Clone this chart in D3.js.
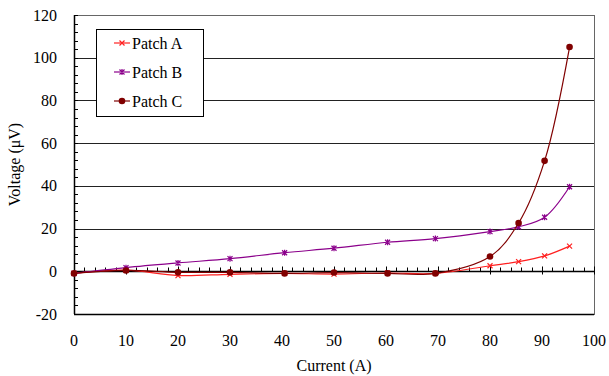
<!DOCTYPE html>
<html>
<head>
<meta charset="utf-8">
<script src="https://cdn.jsdelivr.net/npm/d3@7"></script>
<style>
  body { margin: 0; background: #fff; }
</style>
</head>
<body>
<div id="chart"></div>
<script>
// data
const current = [0, 10, 20, 30, 40.5, 50, 60.3, 69.5, 80, 85.5, 90.5, 95.3];
const patchA = [-1, 0.5, -2, -1.4, -1, -1.3, -0.8, -1, 2.6, 4.5, 7.2, 11.8];
const patchB = [-1, 1.7, 3.9, 5.9, 8.7, 10.8, 13.6, 15.3, 18.6, 20.8, 25.3, 39.6];
const patchC = [-1, 0.4, -0.5, -0.5, -1, -0.6, -1, -1, 6.9, 22.6, 51.7, 105];
const seriesNames = ["Patch A", "Patch B", "Patch C"];
const seriesColors = ["#ff2020", "#8b008b", "#800000"];
const xTicks = [0, 10, 20, 30, 40, 50, 60, 70, 80, 90, 100];
const yTicks = [-20, 0, 20, 40, 60, 80, 100, 120];

const width = 609, height = 376;
const margin = { top: 15, right: 15, bottom: 62, left: 74 };

const svg = d3.select("#chart").append("svg")
    .attr("width", width)
    .attr("height", height)
    .style("font-family", "\"Liberation Serif\", \"DejaVu Serif\", \"Times New Roman\", serif")
    .style("font-size", "16px");

const x = d3.scaleLinear().domain([0, 100]).range([margin.left, width - margin.right]);
const y = d3.scaleLinear().domain([-20, 120]).range([height - margin.bottom, margin.top]);

// gridlines
svg.append("g")
    .selectAll("line")
    .data(yTicks.filter(d => d > 0 && d < 120))
    .join("line")
    .attr("x1", x(0)).attr("x2", x(100))
    .attr("y1", d => Math.round(y(d)) + 0.5).attr("y2", d => Math.round(y(d)) + 0.5)
    .attr("stroke", "#222")
    .attr("stroke-width", 1);

// frame
svg.append("rect")
    .attr("x", x(0) + 0.5).attr("y", Math.round(y(120)) + 0.5)
    .attr("width", x(100) - x(0)).attr("height", y(-20) - y(120))
    .attr("fill", "none")
    .attr("stroke", "#666");
svg.append("line")
    .attr("x1", x(0)).attr("x2", x(100))
    .attr("y1", Math.round(y(-20)) + 0.5).attr("y2", Math.round(y(-20)) + 0.5)
    .attr("stroke", "#000").attr("stroke-width", 1.5);
svg.append("line")
    .attr("x1", x(0) + 0.5).attr("x2", x(0) + 0.5)
    .attr("y1", y(120)).attr("y2", y(-20))
    .attr("stroke", "#000").attr("stroke-width", 1.5);

// y axis ticks (minor every 4, inside) and labels
const yAxis = svg.append("g").attr("transform", `translate(${x(0)},0)`);
yAxis.selectAll(".minor")
    .data(d3.range(-20, 121, 4))
    .join("line")
    .attr("x1", 0).attr("x2", 4)
    .attr("y1", d => Math.round(y(d)) + 0.5).attr("y2", d => Math.round(y(d)) + 0.5)
    .attr("stroke", "#000");
yAxis.selectAll(".lbl")
    .data(yTicks)
    .join("text")
    .attr("x", -17)
    .attr("y", d => y(d))
    .attr("dy", "0.35em")
    .attr("text-anchor", "end")
    .text(d => d);

// x axis line at zero with ticks
const y0 = Math.round(y(0)) + 0.5;
svg.append("line")
    .attr("x1", x(0)).attr("x2", x(100))
    .attr("y1", y0).attr("y2", y0)
    .attr("stroke", "#000").attr("stroke-width", 1.5);
svg.append("g").selectAll("line")
    .data(d3.range(0, 101, 2))
    .join("line")
    .attr("x1", d => Math.round(x(d)) + 0.5).attr("x2", d => Math.round(x(d)) + 0.5)
    .attr("y1", d => d % 10 === 0 ? y0 - 5 : y0 - 4)
    .attr("y2", d => d % 10 === 0 ? y0 + 3 : y0)
    .attr("stroke", "#000");

svg.append("g").selectAll("text")
    .data(xTicks)
    .join("text")
    .attr("x", d => x(d))
    .attr("y", y(-20) + 32)
    .attr("text-anchor", "middle")
    .text(d => d);

// axis titles
svg.append("text")
    .attr("x", (x(0) + x(100)) / 2)
    .attr("y", 371)
    .attr("text-anchor", "middle")
    .text("Current (A)");
svg.append("text")
    .attr("transform", `translate(20, ${(y(120) + y(-20)) / 2}) rotate(-90)`)
    .attr("text-anchor", "middle")
    .text("Voltage (μV)");

// series
const series = [patchA, patchB, patchC].map((vals, i) => ({
    name: seriesNames[i],
    color: seriesColors[i],
    points: vals.map((v, j) => ({ x: current[j], y: v }))
}));

const line = d3.line()
    .x(d => x(d.x))
    .y(d => y(d.y))
    .curve(d3.curveCatmullRom.alpha(0.5));

function drawMarker(g, i, color) {
    if (i === 0) {
        g.append("path").attr("d", "M-2.5,-2.5L2.5,2.5M-2.5,2.5L2.5,-2.5")
            .attr("stroke", color).attr("stroke-width", 1.2);
    } else if (i === 1) {
        g.append("path").attr("d", "M-2.5,-2.5L2.5,2.5M-2.5,2.5L2.5,-2.5M0,-3L0,3")
            .attr("stroke", color).attr("stroke-width", 1.2);
    } else {
        g.append("circle").attr("r", 3.3).attr("fill", color);
    }
}

series.forEach((s, i) => {
    svg.append("path")
        .datum(s.points)
        .attr("fill", "none")
        .attr("stroke", s.color)
        .attr("stroke-width", 1.2)
        .attr("d", line);
    s.points.forEach(p => {
        const g = svg.append("g").attr("transform", `translate(${x(p.x)},${y(p.y)})`);
        drawMarker(g, i, s.color);
    });
});

// legend
const legend = svg.append("g").attr("transform", "translate(96,29)");
legend.append("rect")
    .attr("x", 0.5).attr("y", 0.5)
    .attr("width", 107).attr("height", 87)
    .attr("fill", "#fff")
    .attr("stroke", "#000");
series.forEach((s, i) => {
    const g = legend.append("g").attr("transform", `translate(0, ${14 + i * 29})`);
    g.append("line")
        .attr("x1", 18).attr("x2", 34)
        .attr("stroke", s.color).attr("stroke-width", 1.2);
    const m = g.append("g").attr("transform", "translate(26,0)");
    drawMarker(m, i, s.color);
    g.append("text")
        .attr("x", 36)
        .attr("dy", "0.35em")
        .text(s.name);
});
</script>
</body>
</html>
